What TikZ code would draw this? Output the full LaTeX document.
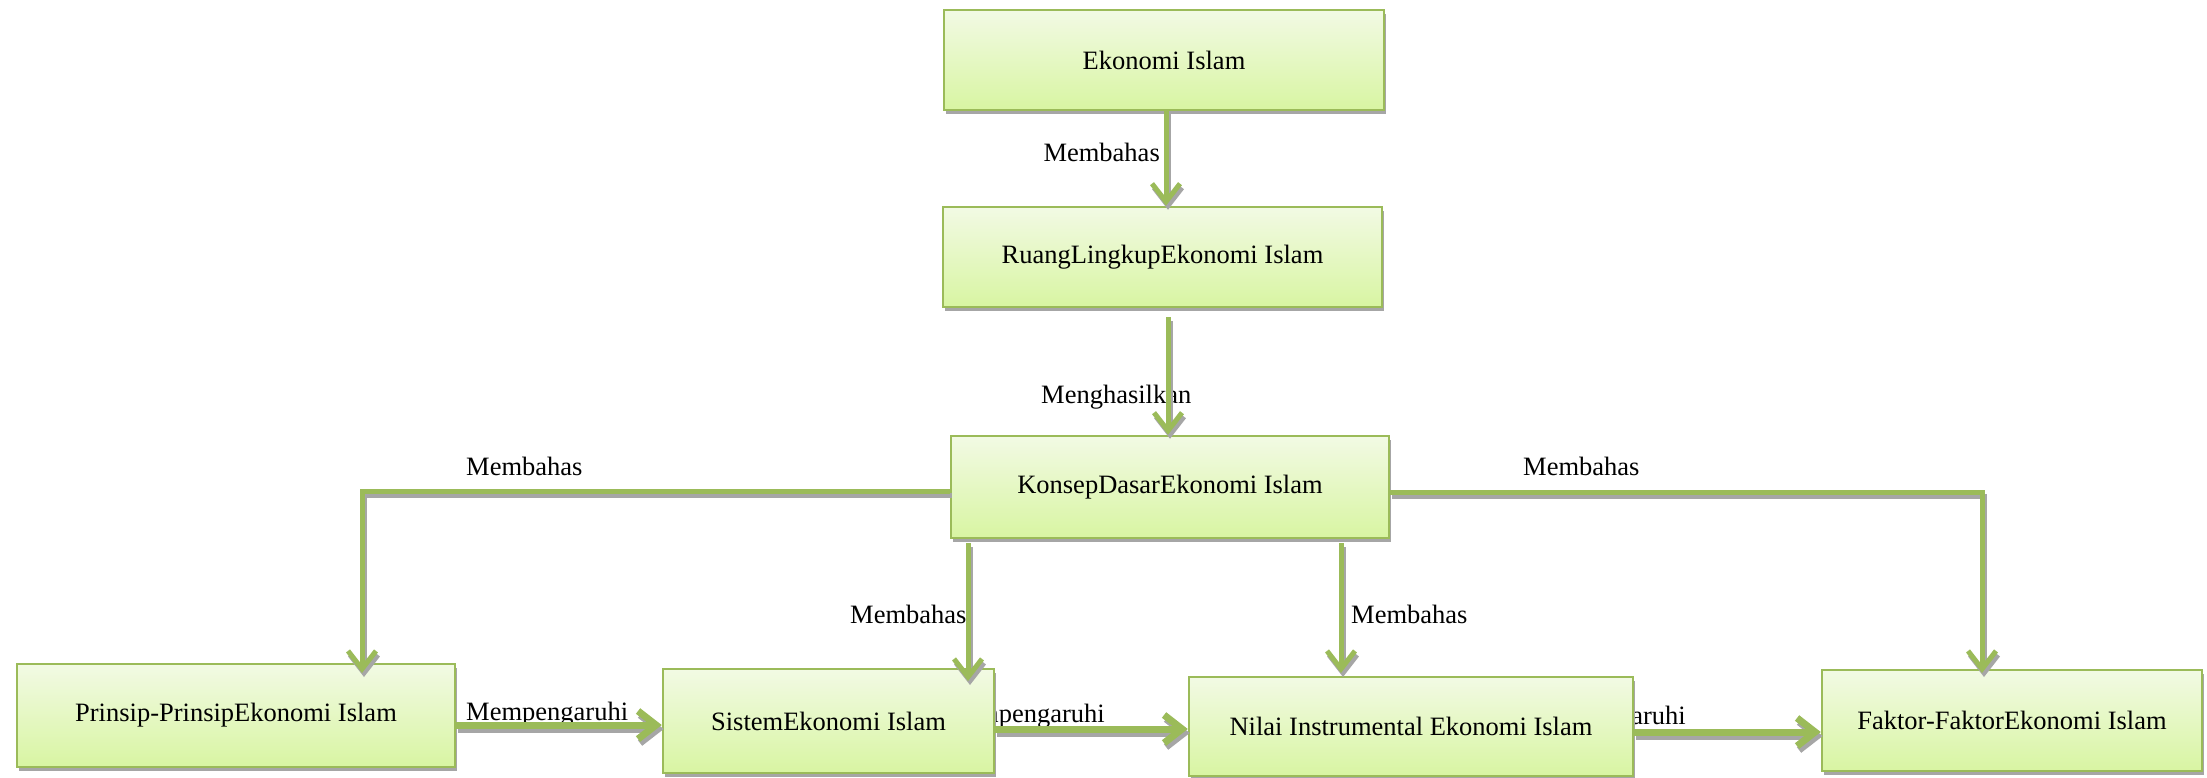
\documentclass[tikz,border=0pt]{standalone}
\usepackage{fontspec}
\setmainfont{Liberation Serif}
\newfontfamily\tnr{Liberation Serif}
\usetikzlibrary{arrows.meta,shadows,calc}
\definecolor{lgreen}{HTML}{9BBB59}
\definecolor{ftop}{HTML}{F2FAE4}
\definecolor{fbot}{HTML}{D8F5A2}
\definecolor{shad}{HTML}{A6A6A6}
\tikzset{
 box/.style={draw=lgreen, line width=2.5pt, top color=ftop, bottom color=fbot,
   drop shadow={shadow xshift=2pt, shadow yshift=-4pt, fill=shad, opacity=1},
   font=\tnr\fontsize{26.5}{30}\selectfont, inner sep=0pt},
 lbl/.style={font=\tnr\fontsize{26.5}{30}\selectfont, inner sep=0pt},
 conn/.style={lgreen, line width=5pt, -{Straight Barb[length=18pt,width=28pt]}},
 shline/.style={shad, line width=5pt, -{Straight Barb[length=18pt,width=28pt]}, transform canvas={shift={(2pt,-4pt)}}},
}
\newcommand\cdraw[2][]{\draw[shline,#1] #2; \draw[conn,#1] #2;}
\begin{document}
\begin{tikzpicture}[x=1pt,y=-1pt]
\useasboundingbox[fill=white] (0,0) rectangle (2207,778);
% labels (drawn first, under boxes and lines)
\node[lbl, anchor=east] (l1) at (1160,152) {Membahas};
\node[lbl, anchor=west] (l2) at (1041,397) {Menghasilkan};
\node[lbl, anchor=west] (l3) at (466,466) {Membahas};
\node[lbl, anchor=west] (l4) at (1523,466) {Membahas};
\node[lbl, anchor=west] (l5) at (850,614) {Membahas};
\node[lbl, anchor=west] (l6) at (1351,614) {Membahas};
\node[lbl, anchor=west] (l7) at (466,714) {Mempengaruhi};
\node[lbl, anchor=east] (l8) at (1105,716) {Mempengaruhi};
\node[lbl, anchor=east] (l9) at (1686,718) {Mempengaruhi};
% boxes
\node[box, minimum width=440pt, minimum height=100pt] (b1) at (1164,60) {Ekonomi Islam};
\node[box, minimum width=439pt, minimum height=100pt] (b2) at (1162.5,257) {RuangLingkupEkonomi Islam};
\node[box, minimum width=438pt, minimum height=102pt] (b3) at (1170,487) {KonsepDasarEkonomi Islam};
\node[box, minimum width=438pt, minimum height=103pt] (p) at (236,715.5) {Prinsip-PrinsipEkonomi Islam};
\node[box, minimum width=331pt, minimum height=104pt] (s) at (828.5,721) {SistemEkonomi Islam};
\node[box, minimum width=444pt, minimum height=99pt] (n) at (1411,726.5) {Nilai Instrumental Ekonomi Islam};
\node[box, minimum width=380pt, minimum height=101pt] (f) at (2012,720.5) {Faktor-FaktorEkonomi Islam};
% connectors
\coordinate (a1s) at (1166,110);
\cdraw{(a1s) -- (a1s |- b2.north)}
\coordinate (a2s) at (1168,317);
\cdraw{(a2s) -- (a2s |- b3.north)}
\coordinate (lt) at (362,673);
\cdraw{([yshift=-4pt]b3.west) -| (lt)}
\coordinate (rt) at (1982,673);
\cdraw{([yshift=-5pt]b3.east) -| (rt)}
\coordinate (m1) at (968,543);
\coordinate (m1e) at (968,681);
\cdraw{(m1) -- (m1e)}
\coordinate (m2) at (1341,543);
\coordinate (m2e) at (1341,673);
\cdraw{(m2) -- (m2e)}
\cdraw[line width=7pt]{([yshift=-9.5pt]p.east) -- ([yshift=-9.5pt]p.east -| s.west)}
\cdraw[line width=7pt]{([yshift=-8pt]s.east) -- ([yshift=-8pt]s.east -| n.west)}
\cdraw[line width=7pt]{([yshift=-5.5pt]n.east) -- ([yshift=-5.5pt]n.east -| f.west)}
\end{tikzpicture}
\end{document}
